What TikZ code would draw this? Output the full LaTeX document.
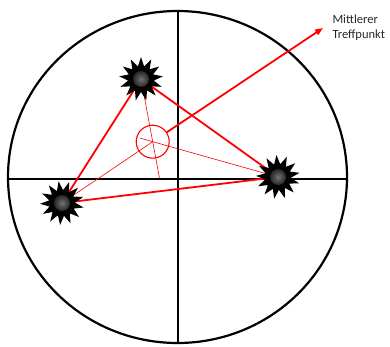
\documentclass[tikz,border=0pt]{standalone}
\usepackage{fontspec}
\setmainfont{Carlito}
\usetikzlibrary{arrows.meta,shapes.geometric,calc,positioning}

\begin{document}
\begin{tikzpicture}[
                x=1pt, y=-1pt,
                font=\fontsize{12.5}{15}\selectfont,
                axisline/.style={line width=2.2pt, black},
                hitline/.style={line width=1.8pt, red},
                median/.style={line width=0.6pt, red},
                burst/.style={star, star points=13, star point ratio=1.7, minimum size=44pt, inner sep=0pt, fill=black, draw=none},
                core/.style={circle, minimum size=16pt, inner sep=0pt, inner color=black!55, outer color=black!85},
                mpring/.style={circle, draw=red, line width=1.1pt, minimum size=33pt, inner sep=0pt},
            ]
            \useasboundingbox (0,0) rectangle (390,347);

            \draw[axisline] (177.5,177) ellipse [x radius=169.5pt, y radius=166pt];
            \coordinate (west)  at (8,179);
            \coordinate (east)  at (346.5,179);
            \coordinate (north) at (177.7,11);
            \coordinate (south) at (177.7,343);
            \draw[axisline] (west) -- (east);
            \draw[axisline] (north) -- (south);

            \coordinate (pA) at (141,79);
            \coordinate (pB) at (62,203);
            \coordinate (pC) at (278,177);
            \node[mpring] (mtp) at (152.7,141.7) {};
            \coordinate (tip) at (323,28);

            \draw[median] (pA) -- ($(pA)!1.58!(mtp.center)$);
            \draw[median] (pB) -- (mtp.center);
            \draw[median] (pC) -- ($(pC)!1.10!(mtp.center)$);

            \draw[hitline] (pA) -- (pB);
            \draw[hitline] (pA) -- (pC);
            \draw[hitline] (pB) -- (pC);
            \draw[hitline, -{Triangle[length=8pt, width=6pt]}] (mtp) -- (tip);

            \foreach \p/\r in {pA/0, pB/9, pC/4}
            {
            \node[burst, rotate=\r] (hit\p) at (\p) {};
            \node[core] at (hit\p.center) {};
            }

            \node[right=6pt of tip, align=left, text=black!85] (lbl) {Mittlerer\\Treffpunkt};
        \end{tikzpicture}
\end{document}
